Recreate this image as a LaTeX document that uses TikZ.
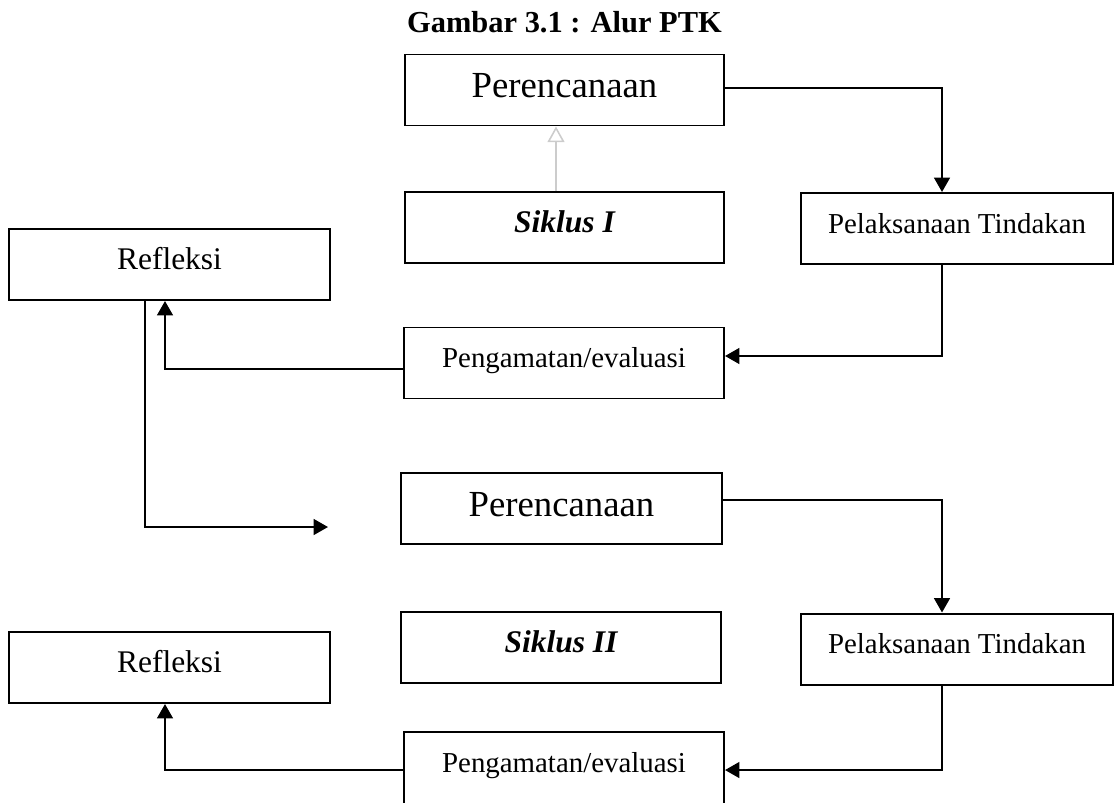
\documentclass[tikz,border=0pt]{standalone}
\usepackage{fontspec}
\setmainfont{Liberation Serif}
\usetikzlibrary{calc,arrows.meta}

\def\px{0.381pt}

\begin{document}
\begin{tikzpicture}[x=0.381pt, y=-0.381pt, >={Triangle[length=5.5pt,width=6pt]},
    kotak/.style={draw, line width=0.75pt, minimum width={#1*\px}, minimum height={71*\px},
        inner sep=0pt, text height=0.7em, text depth=0.35em},
    alur/.style={->, line width=0.9pt},
    besar/.style={font=\fontsize{14}{16}\selectfont, text depth=0.1em},
    sedang/.style={font=\fontsize{12}{14}\selectfont},
    kecil/.style={font=\fontsize{11}{13}\selectfont},
    siklus/.style={font=\fontsize{12}{14}\selectfont\bfseries\itshape}]
    \useasboundingbox (0,0) rectangle (1115,802);

    \node[font=\fontsize{11.6}{13}\selectfont\bfseries, anchor=base] (judul) at (564.5,32) {Gambar 3.1 : Alur PTK};

    % siklus I
    \node[kotak=319, besar] (ren1) at (564.5,90) {Perencanaan};
    \node[kotak=319, siklus] (sik1) at (564.5,227.5) {Siklus I};
    \node[kotak=312, kecil] (lak1) at (957,228.5) {Pelaksanaan Tindakan};
    \node[kotak=321, sedang] (ref1) at (169.5,264.5) {Refleksi};
    \node[kotak=320, kecil] (amat1) at (564,363) {Pengamatan/evaluasi};

    % siklus II
    \node[kotak=321, besar] (ren2) at (561.5,508.5) {Perencanaan};
    \node[kotak=320, siklus] (sik2) at (561,647.5) {Siklus II};
    \node[kotak=312, kecil] (lak2) at (957,649) {Pelaksanaan Tindakan};
    \node[kotak=321, sedang] (ref2) at (169.5,667.5) {Refleksi};
    \node[kotak=320, kecil, minimum height={72*\px}] (amat2) at (564,768) {Pengamatan/evaluasi};

    \coordinate (masuk2) at (328,527);

    \draw[gray!40, line width=0.6pt, -{Triangle[open,length=6pt,width=6.5pt]}]
        ($(sik1.north)+(-8.5,0)$) -- ($(ren1.south)+(-8.5,0)$);
    \draw[alur] ($(ren1.east)+(0,-2)$) -| ($(lak1.north)+(-15,0)$);
    \draw[alur] ($(lak1.south)+(-15,0)$) |- ($(amat1.east)+(0,-7)$);
    \draw[alur] ($(amat1.west)+(0,6)$) -| ($(ref1.south)+(-4.5,0)$);
    \draw[alur] ($(ref1.south)+(-24.5,0)$) |- (masuk2);

    \draw[alur] ($(ren2.east)+(0,-8.5)$) -| ($(lak2.north)+(-15,0)$);
    \draw[alur] ($(lak2.south)+(-15,0)$) |- ($(amat2.east)+(0,2)$);
    \draw[alur] ($(amat2.west)+(0,2)$) -| ($(ref2.south)+(-4.5,0)$);
\end{tikzpicture}
\end{document}
